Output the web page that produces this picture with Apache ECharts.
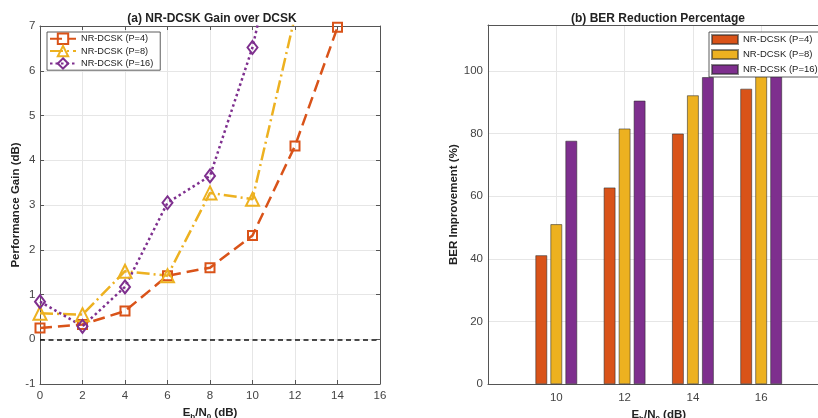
<!DOCTYPE html>
<html><head><meta charset="utf-8">
<script src="https://cdn.jsdelivr.net/npm/echarts@6/dist/echarts.min.js"></script>
<style>html,body{margin:0;padding:0;background:#fff}#c{width:818px;height:418px}</style>
</head><body><div id="c"></div>
<script>
// ---- data ----
const seriesNames = ['NR-DCSK (P=4)', 'NR-DCSK (P=8)', 'NR-DCSK (P=16)'];
const snrDb = [0, 2, 4, 6, 8, 10, 12, 14, 16];
const gainP4 = [0.25, 0.33, 0.63, 1.42, 1.60, 2.32, 4.32, 6.97, 9.2];
const gainP8 = [0.58, 0.55, 1.52, 1.42, 3.27, 3.13, 7.22, 9.5, 11.5];
const gainP16 = [0.84, 0.29, 1.17, 3.05, 3.65, 6.52, 10.7, 13.0, 15.0];
const berSnr = [10, 12, 14, 16];
const berP4 = [41.2, 62.8, 80.0, 94.3];
const berP8 = [51.1, 81.6, 92.2, 98.9];
const berP16 = [77.7, 90.5, 98.0, 99.9];
const berTickLabels = [10, 12, 14, 16];

const colors = ['#D95319', '#EDB120', '#7E2F8E'];
const FONT = '"Liberation Sans", Arial, Helvetica, sans-serif';
const axisCol = '#555';
const labCol = '#444';
const gridCol = '#e6e6e6';

function pairs(xs, ys) { return xs.map((x, i) => [x, ys[i]]); }

const xName = '{n|E}{s|b}{n|/N}{s|0}{n| (dB)}';
const xNameStyle = {
  fontFamily: FONT, color: '#222',
  rich: {
    n: { fontSize: 11.5, fontWeight: 'bold', fontFamily: FONT, color: '#222' },
    s: { fontSize: 8, fontWeight: 'bold', fontFamily: FONT, color: '#222', padding: [7, 0, 0, 0] }
  }
};

const tickStyle = { inside: true, length: 4, lineStyle: { color: axisCol } };
const lblStyle = { color: labCol, fontSize: 11.5, fontFamily: FONT };

const lineStyles = [[12, 6], [13, 4, 2, 4], [2.5, 3]];
const symbols = ['rect', 'triangle', 'diamond'];
const symSizes = [9, 13, [10, 13]];
const gains = [gainP4, gainP8, gainP16];
const bers = [berP4, berP8, berP16];

const series = [];
gains.forEach((g, i) => {
  const s = {
    type: 'line', name: seriesNames[i], xAxisIndex: 0, yAxisIndex: 0,
    data: pairs(snrDb, g), clip: true,
    symbol: symbols[i], symbolSize: symSizes[i], showAllSymbol: true,
    lineStyle: { color: colors[i], width: 2.5, type: lineStyles[i] },
    itemStyle: { color: 'rgba(255,255,255,0)', borderColor: colors[i], borderWidth: 2 },
    emphasis: { disabled: true }, animation: false
  };
  if (i === 0) {
    s.markLine = {
      silent: true, symbol: 'none', label: { show: false },
      lineStyle: { color: '#111', type: [5, 3.5], width: 1.5 },
      data: [{ yAxis: 0 }]
    };
  }
  series.push(s);
});
bers.forEach((b, i) => {
  series.push({
    type: 'bar', name: seriesNames[i] + ' ', xAxisIndex: 2, yAxisIndex: 2,
    data: pairs(berSnr, b), barWidth: 12, barGap: '25%',
    itemStyle: { color: colors[i], borderColor: 'rgba(40,40,40,0.55)', borderWidth: 1 },
    emphasis: { disabled: true }, animation: false
  });
});

const option = {
  animation: false,
  textStyle: { fontFamily: FONT },
  title: [
    { text: '(a) NR-DCSK Gain over DCSK', left: 207, top: 8, textAlign: 'center',
      textStyle: { fontSize: 12, fontWeight: 'bold', color: '#222', fontFamily: FONT } },
    { text: '(b) BER Reduction Percentage', left: 653, top: 8, textAlign: 'center',
      textStyle: { fontSize: 12, fontWeight: 'bold', color: '#222', fontFamily: FONT } }
  ],
  grid: [
    { left: 40, top: 26, width: 340, height: 358, outerBoundsMode: 'none', containLabel: false },
    { left: 488, top: 25, width: 341.5, height: 359.3, outerBoundsMode: 'none', containLabel: false }
  ],
  xAxis: [
    { type: 'value', gridIndex: 0, min: 0, max: 16, interval: 2,
      name: xName, nameLocation: 'middle', nameGap: 20, nameTextStyle: xNameStyle,
      axisLine: { show: true, onZero: false, lineStyle: { color: axisCol } }, axisTick: tickStyle,
      axisLabel: Object.assign({ margin: 6 }, lblStyle),
      splitLine: { show: true, lineStyle: { color: gridCol } } },
    { type: 'value', gridIndex: 0, min: 0, max: 16, interval: 2, position: 'top',
      axisLine: { show: true, onZero: false, lineStyle: { color: axisCol } }, axisTick: tickStyle,
      axisLabel: { show: false }, splitLine: { show: false } },
    { type: 'value', gridIndex: 1, min: 8, max: 18, interval: 2,
      name: xName, nameLocation: 'middle', nameGap: 20, nameTextStyle: xNameStyle,
      axisLine: { show: true, onZero: false, lineStyle: { color: axisCol } }, axisTick: { show: false },
      axisLabel: Object.assign({ margin: 8,
        formatter: v => berTickLabels.indexOf(v) >= 0 ? String(v) : '' }, lblStyle),
      splitLine: { show: true, lineStyle: { color: gridCol } } },
    { type: 'value', gridIndex: 1, min: 8, max: 18, interval: 2, position: 'top',
      axisLine: { show: true, onZero: false, lineStyle: { color: axisCol } }, axisTick: { show: false },
      axisLabel: { show: false }, splitLine: { show: false } }
  ],
  yAxis: [
    { type: 'value', gridIndex: 0, min: -1, max: 7, interval: 1,
      name: 'Performance Gain (dB)', nameLocation: 'middle', nameGap: 16,
      nameTextStyle: { fontSize: 11.5, fontWeight: 'bold', color: '#222', fontFamily: FONT },
      axisLine: { show: true, onZero: false, lineStyle: { color: axisCol } }, axisTick: tickStyle,
      axisLabel: Object.assign({ margin: 4.5 }, lblStyle),
      splitLine: { show: true, lineStyle: { color: gridCol } } },
    { type: 'value', gridIndex: 0, min: -1, max: 7, interval: 1, position: 'right',
      axisLine: { show: true, onZero: false, lineStyle: { color: axisCol } }, axisTick: tickStyle,
      axisLabel: { show: false }, splitLine: { show: false } },
    { type: 'value', gridIndex: 1, min: 0, max: 114.6, interval: 20,
      name: 'BER Improvement (%)', nameLocation: 'middle', nameGap: 19,
      nameTextStyle: { fontSize: 11.5, fontWeight: 'bold', color: '#222', fontFamily: FONT },
      axisLine: { show: true, onZero: false, lineStyle: { color: axisCol } }, axisTick: { show: false },
      axisLabel: Object.assign({ margin: 5, showMaxLabel: false }, lblStyle),
      splitLine: { show: true, showMaxLine: false, lineStyle: { color: gridCol } } }
  ],
  legend: [
    { data: seriesNames, left: 47, top: 32, orient: 'vertical',
      itemWidth: 26, itemHeight: 13, itemGap: 0, padding: [0.5, 7, 0.5, 2],
      backgroundColor: '#fff', borderColor: '#333', borderWidth: 0.8,
      textStyle: { fontSize: 9.2, color: '#222', fontFamily: FONT }, selectedMode: false },
    { data: seriesNames.map(n => n + ' '), left: 709, top: 32, orient: 'vertical',
      itemWidth: 26, itemHeight: 9, itemGap: 4, padding: [2, 4, 2, 2],
      icon: 'rect',
      backgroundColor: '#fff', borderColor: '#333', borderWidth: 0.8,
      textStyle: { fontSize: 9.5, color: '#222', fontFamily: FONT }, selectedMode: false }
  ],
  series: series
};

const chart = echarts.init(document.getElementById('c'), null, { renderer: 'canvas' });
chart.setOption(option);
</script></body></html>
